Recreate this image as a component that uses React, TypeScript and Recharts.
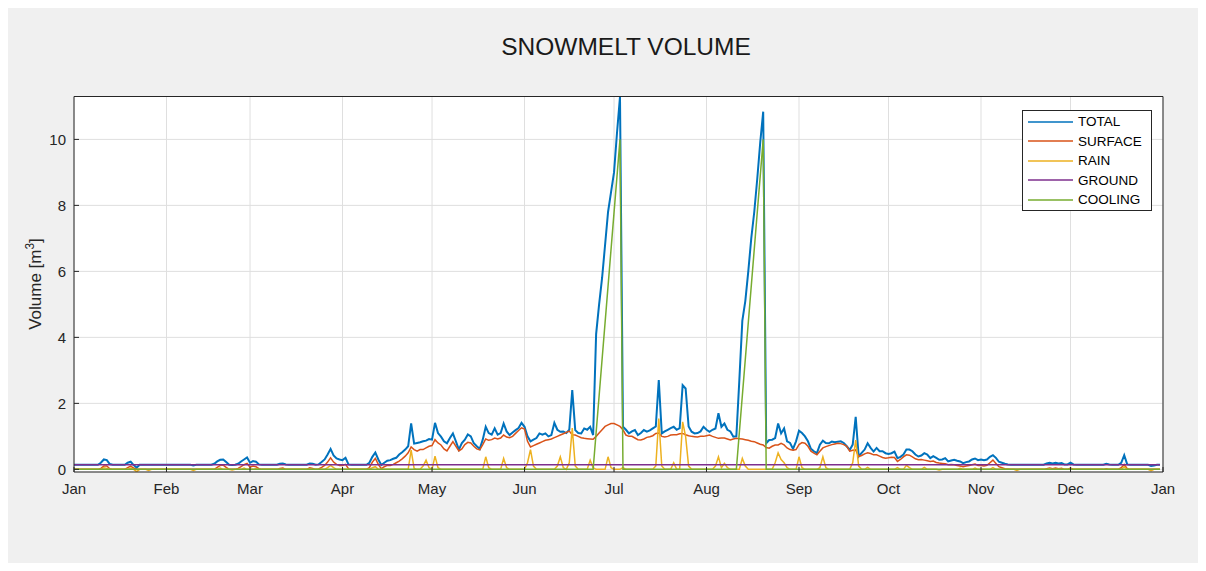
import React from 'react';
import { LineChart, Line, XAxis, YAxis, CartesianGrid } from 'recharts';

const FONT = '"Liberation Sans", Arial, Helvetica, sans-serif';
const AXIS_COLOR = '#262626';

// Month tick positions (day of year) and their labels
const MONTH_TICKS = [0, 31, 59, 90, 120, 151, 181, 212, 243, 273, 304, 334, 365];
const MONTH_LABELS = ['Jan', 'Feb', 'Mar', 'Apr', 'May', 'Jun', 'Jul', 'Aug', 'Sep', 'Oct', 'Nov', 'Dec', 'Jan'];
const Y_TICKS = [0, 2, 4, 6, 8, 10];

// Daily total snowmelt volume [m3], one row per month
const TOTAL_BY_MONTH: number[][] = [
  [0.14, 0.14, 0.14, 0.14, 0.14, 0.14, 0.14, 0.14, 0.14, 0.2, 0.3, 0.28, 0.16, 0.14, 0.14, 0.14, 0.14, 0.14, 0.2, 0.23, 0.13, 0.05, 0.14, 0.14, 0.14, 0.14, 0.14, 0.14, 0.14, 0.14, 0.14],
  [0.14, 0.14, 0.14, 0.14, 0.14, 0.14, 0.14, 0.14, 0.14, 0.12, 0.14, 0.14, 0.14, 0.14, 0.14, 0.14, 0.17, 0.24, 0.29, 0.3, 0.22, 0.14, 0.13, 0.14, 0.17, 0.24, 0.3, 0.36],
  [0.2, 0.25, 0.23, 0.15, 0.14, 0.14, 0.14, 0.14, 0.14, 0.14, 0.17, 0.18, 0.15, 0.14, 0.14, 0.14, 0.14, 0.14, 0.14, 0.14, 0.18, 0.17, 0.14, 0.15, 0.22, 0.3, 0.45, 0.62, 0.42, 0.33, 0.3],
  [0.28, 0.35, 0.15, 0.14, 0.14, 0.14, 0.14, 0.14, 0.14, 0.2, 0.38, 0.51, 0.3, 0.13, 0.2, 0.26, 0.28, 0.32, 0.35, 0.45, 0.52, 0.6, 0.7, 1.39, 0.78, 0.8, 0.82, 0.85, 0.87, 0.92],
  [0.9, 1.41, 1.1, 0.99, 0.85, 0.79, 0.95, 1.09, 0.85, 0.6, 0.8, 0.9, 1.06, 1.0, 0.79, 0.7, 0.62, 0.9, 1.29, 1.1, 1.05, 1.24, 1.05, 1.1, 1.39, 1.15, 1.04, 1.12, 1.19, 1.25, 1.41],
  [1.29, 1.0, 0.85, 0.9, 0.95, 1.09, 1.05, 1.09, 1.0, 1.04, 1.41, 1.2, 1.14, 1.15, 1.1, 1.2, 2.4, 1.19, 1.1, 1.09, 1.24, 1.2, 1.29, 1.04, 4.1, 5.0, 5.8, 6.8, 7.8, 8.4],
  [9.0, 10.2, 11.29, 1.29, 1.2, 1.09, 1.15, 1.19, 1.04, 1.1, 1.19, 1.14, 1.18, 1.24, 1.3, 2.71, 1.09, 1.15, 1.2, 1.25, 1.29, 1.2, 1.25, 2.55, 2.45, 1.3, 1.14, 1.09, 1.1, 1.15, 1.29],
  [1.2, 1.14, 1.2, 1.24, 1.7, 1.29, 1.39, 1.2, 1.15, 0.99, 1.0, 2.7, 4.5, 5.1, 6.0, 7.0, 7.8, 8.8, 9.9, 10.84, 0.79, 0.89, 0.9, 0.95, 1.39, 1.09, 1.24, 0.85, 0.8, 0.62, 0.85],
  [1.17, 1.1, 1.0, 0.85, 0.62, 0.55, 0.49, 0.75, 0.87, 0.8, 0.79, 0.84, 0.82, 0.84, 0.85, 0.8, 0.7, 0.59, 0.75, 1.59, 0.39, 0.5, 0.6, 0.79, 0.65, 0.54, 0.65, 0.55, 0.55, 0.49],
  [0.47, 0.49, 0.54, 0.34, 0.38, 0.45, 0.6, 0.6, 0.55, 0.45, 0.39, 0.42, 0.49, 0.45, 0.34, 0.4, 0.35, 0.29, 0.3, 0.34, 0.24, 0.27, 0.29, 0.26, 0.24, 0.19, 0.22, 0.24, 0.3, 0.33, 0.28],
  [0.3, 0.28, 0.3, 0.38, 0.43, 0.35, 0.23, 0.2, 0.17, 0.15, 0.14, 0.14, 0.14, 0.14, 0.14, 0.14, 0.14, 0.14, 0.14, 0.14, 0.14, 0.14, 0.18, 0.2, 0.18, 0.2, 0.18, 0.19, 0.15, 0.15],
  [0.2, 0.15, 0.14, 0.14, 0.14, 0.14, 0.14, 0.14, 0.14, 0.14, 0.14, 0.14, 0.17, 0.15, 0.14, 0.14, 0.14, 0.2, 0.43, 0.15, 0.14, 0.14, 0.14, 0.14, 0.14, 0.14, 0.14, 0.1, 0.12, 0.14, 0.14],
];

// Daily surface melt volume [m3]
const SURFACE_BY_MONTH: number[][] = [
  [0, 0, 0, 0, 0, 0, 0, 0, 0, 0.03, 0.1, 0.1, 0.02, 0, 0, 0, 0, 0, 0.05, 0.1, 0.04, 0, 0, 0, 0, 0, 0, 0, 0, 0, 0],
  [0, 0, 0, 0, 0, 0, 0, 0, 0, 0, 0, 0, 0, 0, 0, 0, 0, 0.06, 0.12, 0.13, 0.06, 0, 0, 0, 0.03, 0.08, 0.14, 0.18],
  [0.07, 0.1, 0.08, 0.02, 0, 0, 0, 0, 0, 0, 0.03, 0.04, 0, 0, 0, 0, 0, 0, 0, 0, 0.05, 0.03, 0, 0.01, 0.06, 0.12, 0.22, 0.35, 0.22, 0.15, 0.12],
  [0.12, 0.15, 0.02, 0, 0, 0, 0, 0, 0, 0.05, 0.22, 0.33, 0.15, 0.02, 0.08, 0.12, 0.12, 0.15, 0.2, 0.25, 0.32, 0.4, 0.5, 0.68, 0.6, 0.55, 0.6, 0.6, 0.65, 0.7],
  [0.72, 0.9, 0.8, 0.74, 0.62, 0.56, 0.7, 0.84, 0.7, 0.56, 0.62, 0.75, 0.82, 0.8, 0.7, 0.62, 0.59, 0.75, 0.92, 0.88, 0.9, 0.95, 0.92, 0.95, 1.04, 0.98, 0.96, 1.0, 1.09, 1.18, 1.26],
  [1.22, 0.85, 0.68, 0.72, 0.76, 0.8, 0.84, 0.88, 0.9, 0.92, 0.96, 1.0, 1.04, 1.08, 1.12, 1.16, 1.05, 1.04, 1.0, 0.96, 0.94, 0.93, 0.92, 0.91, 1.0, 1.1, 1.2, 1.3, 1.35, 1.39],
  [1.39, 1.35, 1.3, 1.2, 1.04, 1.0, 1.0, 0.95, 0.9, 0.89, 0.92, 0.97, 0.99, 1.02, 1.09, 1.1, 1.0, 0.98, 1.0, 1.04, 1.05, 1.05, 1.08, 1.09, 1.05, 1.02, 1.0, 0.99, 0.98, 1.0, 1.0],
  [1.02, 1.04, 1.0, 0.97, 0.94, 0.95, 0.95, 0.92, 0.89, 0.92, 0.94, 0.93, 0.92, 0.9, 0.88, 0.85, 0.84, 0.8, 0.76, 0.74, 0.66, 0.64, 0.7, 0.74, 0.74, 0.79, 0.74, 0.65, 0.6, 0.58, 0.6],
  [0.75, 0.81, 0.79, 0.7, 0.55, 0.49, 0.44, 0.55, 0.65, 0.69, 0.72, 0.75, 0.77, 0.79, 0.78, 0.75, 0.7, 0.55, 0.58, 0.59, 0.39, 0.42, 0.47, 0.5, 0.48, 0.44, 0.44, 0.4, 0.36, 0.34],
  [0.35, 0.37, 0.36, 0.24, 0.3, 0.38, 0.44, 0.43, 0.38, 0.32, 0.29, 0.3, 0.28, 0.26, 0.24, 0.25, 0.21, 0.19, 0.18, 0.17, 0.14, 0.15, 0.14, 0.12, 0.1, 0.08, 0.1, 0.12, 0.14, 0.16, 0.12],
  [0.12, 0.1, 0.12, 0.2, 0.28, 0.18, 0.08, 0.05, 0.02, 0.01, 0, 0, 0, 0, 0, 0, 0, 0, 0, 0, 0, 0, 0.02, 0.04, 0.02, 0.04, 0.02, 0.03, 0, 0],
  [0.04, 0, 0, 0, 0, 0, 0, 0, 0, 0, 0, 0, 0.02, 0, 0, 0, 0, 0.05, 0.15, 0.02, 0, 0, 0, 0, 0, 0, 0, 0, 0, 0, 0],
];

// Daily rain-induced melt volume [m3]
const RAIN_BY_MONTH: number[][] = [
  [0, 0, 0, 0, 0, 0, 0, 0, 0, 0, 0.05, 0.03, 0, 0, 0, 0, 0, 0, 0, 0.04, 0, -0.07, 0, 0, 0, -0.03, 0, 0, 0, 0, 0],
  [0, 0, 0, 0, 0, 0, 0, 0, 0, -0.03, 0, 0, 0, 0, 0, 0, 0, 0, 0.04, 0, 0, 0, -0.02, 0, 0, 0, 0.04, 0],
  [0, 0, 0.02, 0, 0, 0, 0, 0, 0, 0, 0, 0, 0, 0, 0, 0, 0, 0, 0, 0, 0, 0, 0, 0, 0, 0, 0.05, 0.12, 0.05, 0, 0],
  [0, 0, 0, 0, 0, 0, 0, 0, 0, 0, 0.05, 0.08, 0, 0, 0, 0, 0, 0, 0, 0, 0, 0, 0, 0.58, 0.03, 0, 0, 0.1, 0.28, 0.05],
  [0, 0.4, 0.05, 0, 0, 0, 0, 0, 0, 0, 0, 0, 0, 0, 0, 0, 0, 0, 0.38, 0.05, 0, 0, 0, 0, 0.33, 0.05, 0, 0, 0, 0, 0],
  [0, 0.2, 0.6, 0.1, 0, 0, 0, 0, 0, 0, 0, 0.1, 0.38, 0.05, 0, 0.2, 1.25, 0.1, 0, 0, 0, 0, 0.28, 0.05, 0, 0, 0, 0, 0.38, 0.05],
  [0, 0, 0, 0.05, 0, 0, 0, 0, 0, 0, 0, 0, 0, 0, 0.1, 1.54, 0.1, 0, 0, 0, 0.2, 0, 0, 1.44, 0.99, 0.1, 0, 0, 0, 0, 0],
  [0, 0, 0, 0.1, 0.38, 0.05, 0.18, 0.05, 0, 0, 0, 0, 0.33, 0.1, 0, 0, 0, 0, 0, 0, 0, 0, 0, 0.2, 0.5, 0.3, 0.2, 0.05, 0, 0, 0],
  [0.38, 0.05, 0, 0, 0, 0, 0, 0.05, 0.38, 0.05, 0, 0, 0, 0, 0, 0, 0, 0, 0.2, 0.89, 0.1, 0, 0, 0.06, 0, 0, 0, 0, 0, 0],
  [0, 0, 0, 0.05, 0, 0, 0.12, 0.05, 0, 0, 0, 0, 0.06, 0, 0, 0, 0, -0.02, 0, 0, 0, 0, 0, 0, 0.03, 0, 0, 0, 0, 0.04, 0],
  [0, 0, 0, 0, 0.05, 0, 0, 0, 0, 0, 0, 0, -0.03, 0, 0, 0, 0, 0, 0, 0, 0, 0, 0, 0.02, 0, 0, 0, 0, 0, 0],
  [0, 0, 0, 0, 0, 0, 0, 0, 0, 0, 0, 0, 0, 0, 0, 0, 0, 0, 0.08, 0, 0, 0, 0, 0, 0, 0, 0, -0.04, 0, 0, 0],
];

// Ground melt is flat over the year
const GROUND_DAYS = [0, 364];
const GROUND_VALUES = [0.14, 0.14];

// Cooling melt: two ramp events
const COOLING_DAYS = [0, 174, 183, 184, 222, 231, 232, 364];
const COOLING_VALUES = [0, 0, 10, 0, 0, 10, 0, 0];

const SERIES = [
  { key: 'total', name: 'TOTAL', color: '#0072BD', width: 2 },
  { key: 'surface', name: 'SURFACE', color: '#D95319', width: 1.5 },
  { key: 'rain', name: 'RAIN', color: '#EDB120', width: 1.5 },
  { key: 'ground', name: 'GROUND', color: '#7E2F8E', width: 1.5 },
  { key: 'cooling', name: 'COOLING', color: '#77AC30', width: 1.5 },
];

const total = TOTAL_BY_MONTH.flat();
const surface = SURFACE_BY_MONTH.flat();
const rain = RAIN_BY_MONTH.flat();

const dailyRows = total.map((t, i) => ({ day: i, total: t, surface: surface[i], rain: rain[i] }));
const groundRows = GROUND_DAYS.map((d, i) => ({ day: d, ground: GROUND_VALUES[i] }));
const coolingRows = COOLING_DAYS.map((d, i) => ({ day: d, cooling: COOLING_VALUES[i] }));

const monthLabel = (d: number) => MONTH_LABELS[MONTH_TICKS.indexOf(d)] ?? '';

function LegendBox() {
  return (
    <div
      style={{
        position: 'absolute',
        left: 1014,
        top: 102,
        width: 130,
        height: 101,
        boxSizing: 'border-box',
        border: `1px solid ${AXIS_COLOR}`,
        background: '#ffffff',
        paddingTop: 1,
        fontSize: 13.5,
        color: '#000',
        zIndex: 2,
      }}
    >
      {SERIES.map((s) => (
        <div key={s.name} style={{ display: 'flex', alignItems: 'center', height: 19.5 }}>
          <svg width={45} height={4} style={{ marginLeft: 5, marginRight: 5, display: 'block' }}>
            <line x1={0} y1={2} x2={45} y2={2} stroke={s.color} strokeWidth={1.5} />
          </svg>
          <span>{s.name}</span>
        </div>
      ))}
    </div>
  );
}

export default function App() {
  return (
    <div style={{ position: 'relative', width: 1190, height: 555, background: '#f0f0f0', fontFamily: FONT }}>
      <div
        style={{
          position: 'absolute',
          left: 618,
          top: 26,
          transform: 'translateX(-50%)',
          fontSize: 24.5,
          lineHeight: '25px',
          color: '#1a1a1a',
          whiteSpace: 'nowrap',
          zIndex: 2,
        }}
      >
        SNOWMELT VOLUME
      </div>
      <div
        style={{
          position: 'absolute',
          left: 28,
          top: 276,
          transform: 'translate(-50%, -50%) rotate(-90deg)',
          fontSize: 17,
          lineHeight: '20px',
          color: AXIS_COLOR,
          whiteSpace: 'nowrap',
          zIndex: 2,
        }}
      >
        Volume [m<sup style={{ fontSize: '0.7em', lineHeight: 0 }}>3</sup>]
      </div>
      <LegendBox />
      <LineChart
        width={1190}
        height={555}
        data={dailyRows}
        margin={{ top: 87.5, right: 34, bottom: 61, left: 36 }}
        style={{ fontFamily: FONT }}
      >
        <CartesianGrid stroke="#dfdfdf" fill="#ffffff" />
        <XAxis
          dataKey="day"
          type="number"
          domain={[0, 365]}
          ticks={MONTH_TICKS}
          interval={0}
          tickFormatter={monthLabel}
          height={30}
          tickSize={-5}
          tickMargin={16}
          stroke={AXIS_COLOR}
          tick={{ fill: AXIS_COLOR, fontSize: 15 }}
          allowDataOverflow
        />
        <XAxis
          xAxisId="top"
          orientation="top"
          dataKey="day"
          type="number"
          domain={[0, 365]}
          ticks={MONTH_TICKS}
          interval={0}
          height={1}
          tickSize={-5}
          tick={false}
          stroke={AXIS_COLOR}
          allowDataOverflow
        />
        <YAxis
          type="number"
          domain={[-0.08, 11.3]}
          ticks={Y_TICKS}
          interval={0}
          width={30}
          tickSize={-5}
          tickMargin={13}
          stroke={AXIS_COLOR}
          tick={{ fill: AXIS_COLOR, fontSize: 15 }}
          allowDataOverflow
        />
        <YAxis
          yAxisId="right"
          orientation="right"
          type="number"
          domain={[-0.08, 11.3]}
          ticks={Y_TICKS}
          interval={0}
          width={1}
          tickSize={-5}
          tick={false}
          stroke={AXIS_COLOR}
          allowDataOverflow
        />
        <Line type="linear" dataKey="total" name="TOTAL" stroke={SERIES[0].color} strokeWidth={SERIES[0].width} dot={false} isAnimationActive={false} />
        <Line type="linear" dataKey="surface" name="SURFACE" stroke={SERIES[1].color} strokeWidth={SERIES[1].width} dot={false} isAnimationActive={false} />
        <Line type="linear" dataKey="rain" name="RAIN" stroke={SERIES[2].color} strokeWidth={SERIES[2].width} dot={false} isAnimationActive={false} />
        <Line type="linear" data={groundRows} dataKey="ground" name="GROUND" stroke={SERIES[3].color} strokeWidth={SERIES[3].width} dot={false} isAnimationActive={false} />
        <Line type="linear" data={coolingRows} dataKey="cooling" name="COOLING" stroke={SERIES[4].color} strokeWidth={SERIES[4].width} dot={false} isAnimationActive={false} />
      </LineChart>
    </div>
  );
}
